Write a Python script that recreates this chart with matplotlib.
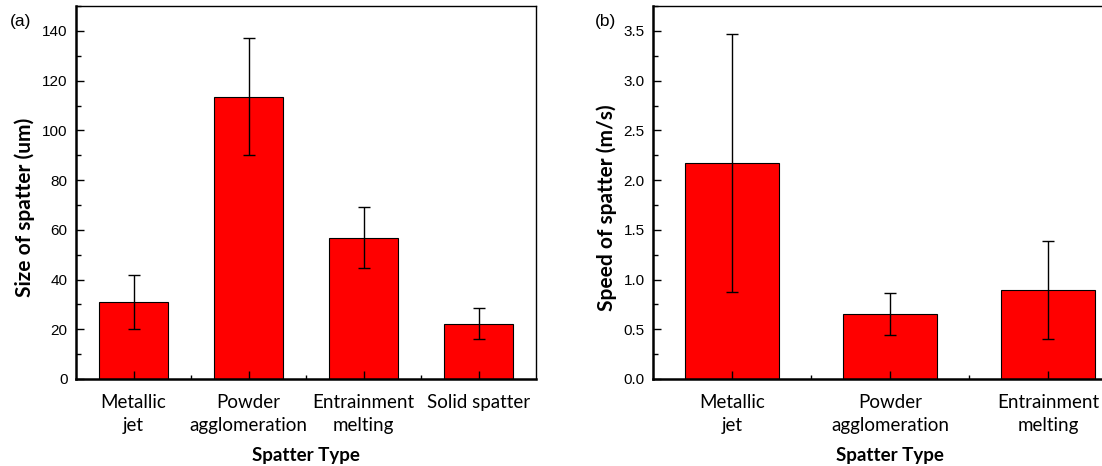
import matplotlib
matplotlib.use("Agg")
import matplotlib.pyplot as plt
from matplotlib.ticker import MultipleLocator, FixedLocator

# Data
cats_a = ["Metallic\njet", "Powder\nagglomeration", "Entrainment\nmelting", "Solid spatter"]
size_vals = [30.9, 113.6, 56.9, 22.3]
size_err = [10.8, 23.6, 12.3, 6.1]

cats_b = ["Metallic\njet", "Powder\nagglomeration", "Entrainment\nmelting"]
speed_vals = [2.17, 0.655, 0.897]
speed_err = [1.30, 0.21, 0.49]
speed_ticks = [0.0, 0.5, 1.0, 1.5, 2.0, 2.5, 3.0, 3.5]
speed_ticklabels = ["0.0", "0.5", "1.0", "1.5", "2.0", "2.5", "3.0", "3.5"]

CAT_FONT = "Lato"
NUM_FONT = "Liberation Sans"

fig = plt.figure(figsize=(11.02, 4.66), dpi=100)

def style(ax, cats, ylim, major, minor, ylabel, panel, panel_xy, ylab_x):
    n = len(cats)
    x = list(range(1, n + 1))
    ax.set_xlim(0.5, n + 0.5)
    ax.set_ylim(*ylim)
    ax.set_xticks(x)
    ax.set_xticklabels(cats, fontfamily=CAT_FONT, fontsize=13.5, linespacing=1.4)
    ax.xaxis.set_minor_locator(FixedLocator([i + 0.5 for i in range(1, n)]))
    ax.tick_params(axis="x", which="major", direction="in", length=5.5, width=1, pad=11)
    ax.tick_params(axis="x", which="minor", direction="in", length=3, width=1)
    ax.yaxis.set_major_locator(MultipleLocator(major))
    ax.yaxis.set_minor_locator(MultipleLocator(minor))
    ax.tick_params(axis="y", which="major", direction="in", length=5.5, width=1, labelsize=11, pad=6)
    ax.tick_params(axis="y", which="minor", direction="in", length=3.5, width=1)
    for lab in ax.get_yticklabels():
        lab.set_fontfamily(NUM_FONT)
    ax.spines["left"].set_linewidth(1.8)
    ax.spines["bottom"].set_linewidth(1.8)
    ax.spines["top"].set_linewidth(1.0)
    ax.spines["right"].set_linewidth(1.0)
    ax.set_xlabel("Spatter Type", fontfamily=CAT_FONT, fontweight="bold", fontsize=13.5)
    ax.xaxis.label.set_va("center")
    ax.xaxis.set_label_coords(0.5, -0.206)
    ax.set_ylabel(ylabel, fontfamily=CAT_FONT, fontweight="bold", fontsize=15)
    ax.yaxis.label.set_va("center")
    ax.yaxis.set_label_coords(ylab_x, 0.46)
    fig.text(panel_xy[0], panel_xy[1], panel, fontfamily=NUM_FONT, fontsize=12.5, ha="left", va="center")

ax1 = fig.add_axes([0.069, 0.1867, 0.4175, 0.8003])
ax1.bar(range(1, len(cats_a) + 1), size_vals, width=0.6, color="#ff0000", edgecolor="black", linewidth=0.8,
        yerr=size_err, error_kw=dict(ecolor="black", elinewidth=1, capsize=4, capthick=1))
style(ax1, cats_a, (0, 150), 20, 10, "Size of spatter (um)", "(a)", (0.009, 0.953), -0.111)

ax2 = fig.add_axes([0.5926, 0.1867, 0.430, 0.8003])
ax2.bar(range(1, len(cats_b) + 1), speed_vals, width=0.6, color="#ff0000", edgecolor="black", linewidth=0.8,
        yerr=speed_err, error_kw=dict(ecolor="black", elinewidth=1, capsize=4, capthick=1))
style(ax2, cats_b, (0, 3.75), 0.5, 0.25, "Speed of spatter (m/s)", "(b)", (0.540, 0.953), -0.097)
ax2.set_yticks(speed_ticks)
ax2.set_yticklabels(speed_ticklabels, fontfamily=NUM_FONT)

fig.savefig("out.png", dpi=100)
